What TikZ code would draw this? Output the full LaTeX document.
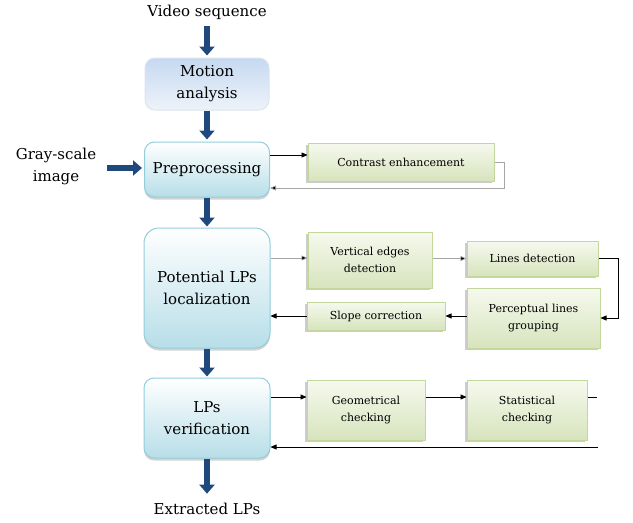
\documentclass[tikz,border=0pt]{standalone}
\usepackage{fontspec}
\setmainfont{DejaVu Serif}
\usetikzlibrary{arrows.meta,shadows}
\definecolor{arrowblue}{RGB}{31,73,125}
\definecolor{boxbot}{RGB}{183,222,232}
\definecolor{boxedge}{RGB}{146,205,220}
\definecolor{mottop}{RGB}{198,217,241}
\definecolor{motbot}{RGB}{238,243,250}
\definecolor{motedge}{RGB}{220,228,236}
\definecolor{grtop}{RGB}{246,249,238}
\definecolor{grbot}{RGB}{215,228,189}
\definecolor{gredge}{RGB}{195,214,155}
\begin{document}
\begin{tikzpicture}[x=1pt,y=-1pt,
  bigfont/.style={font=\fontsize{15}{22}\selectfont},
  smallfont/.style={font=\fontsize{11}{17}\selectfont},
  bluebox/.style={rounded corners=10pt, draw=boxedge, line width=1pt, top color=white, bottom color=boxbot,
     drop shadow={shadow xshift=0pt, shadow yshift=-2.5pt, opacity=0.35, fill=gray},
     align=center, bigfont, inner sep=2pt},
  motbox/.style={rounded corners=10pt, draw=motedge, line width=1pt, top color=mottop, bottom color=motbot,
     align=center, bigfont, inner sep=2pt},
  greenbox/.style={draw=gredge, line width=1pt, top color=grtop, bottom color=grbot,
     drop shadow={shadow xshift=-2pt, shadow yshift=-2pt, opacity=0.4, fill=gray},
     align=center, smallfont, inner sep=2pt},
  bigarrow/.style={draw=arrowblue, line width=6pt, -{Triangle[width=15pt,length=9pt]}},
  conn/.style={draw=black, line width=0.7pt, -{Triangle[length=6pt,width=5pt]}},
  gconn/.style={draw=gray!70, line width=0.7pt, -{Triangle[length=6pt,width=5pt,fill=black]}},
  line/.style={draw=black, line width=0.7pt}
]
\useasboundingbox (0,0) rectangle (633,523);
% labels
\node[bigfont] (vid) at (207,12) {Video sequence};
\node[bigfont] (ext) at (207,509) {Extracted LPs};
\node[bigfont, align=center] (gray) at (56,166) {Gray-scale\\image};
% main boxes
\node[motbox, minimum width=124, minimum height=52] (mot) at (207,84) {Motion\\analysis};
\node[bluebox, minimum width=125, minimum height=55] (pre) at (207,169.5) {Preprocessing};
\node[bluebox, rounded corners=15pt, minimum width=126, minimum height=120] (pot) at (207,288) {Potential LPs\\localization};
\node[bluebox, minimum width=126, minimum height=80] (ver) at (207,418) {LPs\\verification};
% green boxes
\node[greenbox, minimum width=186, minimum height=38] (con) at (401,162) {Contrast enhancement};
\node[greenbox, minimum width=124, minimum height=56] (vert) at (370,260) {Vertical edges\\detection};
\node[greenbox, minimum width=131, minimum height=35] (lin) at (532.5,258.5) {Lines detection};
\node[greenbox, minimum width=133, minimum height=60] (perc) at (533.5,318) {Perceptual lines\\grouping};
\node[greenbox, minimum width=138, minimum height=28] (slope) at (376,316) {Slope correction};
\node[greenbox, minimum width=118, minimum height=60] (geo) at (366,410) {Geometrical\\checking};
\node[greenbox, minimum width=120, minimum height=60] (stat) at (527,410) {Statistical\\checking};
% thick arrows
\draw[bigarrow, shorten <=3pt, shorten >=2pt] (vid.south) -- (mot.north);
\draw[bigarrow, shorten >=2pt] (mot.south) -- (pre.north);
\draw[bigarrow, shorten >=1pt] (pre.south) -- (pot.north);
\draw[bigarrow, shorten >=1pt] (pot.south) -- (ver.north);
\draw[bigarrow, shorten >=6pt] (ver.south) -- (ext.north);
\coordinate (gs) at (107,168);
\draw[bigarrow, shorten >=2pt] (gs) -- (gs -| pre.west);
% thin connectors
\coordinate (p1) at ([yshift=14.5pt]pre.east);
\coordinate (p2) at ([yshift=-18.5pt]pre.east);
\draw[conn] (p1) -- (p1 -| con.west);
\draw[gconn] (con.east) -- ++(10,0) -- ++(0,26) |- (p2);
\coordinate (p3) at ([yshift=30pt]pot.east);
\draw[gconn] (p3) -- (p3 -| vert.west);
\draw[gconn] (lin.west -| vert.east) -- (lin.west);
\draw[conn] (lin.east) -- ++(20,0) |- (perc.east);
\draw[conn] (slope.east -| perc.west) -- (slope.east);
\draw[conn] (slope.west) -- (slope.west -| pot.east);
\coordinate (p4) at ([yshift=21pt]ver.east);
\draw[conn] (p4) -- (p4 -| geo.west);
\draw[conn] (p4 -| geo.east) -- (p4 -| stat.west);
\coordinate (e1) at (597,397);
\draw[line] (p4 -| stat.east) -- (e1);
\coordinate (e2) at (598,447);
\draw[conn] (e2) -- (e2 -| ver.east);
\end{tikzpicture}
\end{document}
